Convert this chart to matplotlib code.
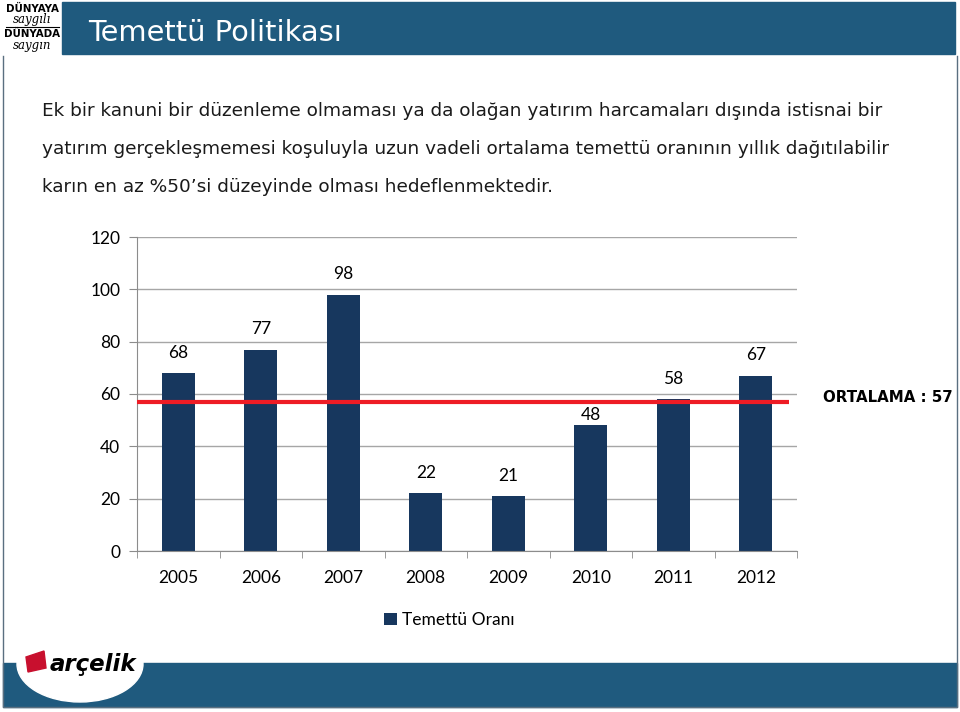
import matplotlib.pyplot as plt
from matplotlib.patches import Rectangle, Ellipse, Polygon
from matplotlib.lines import Line2D

# data
years = ['2005', '2006', '2007', '2008', '2009', '2010', '2011', '2012']
temettu = [68, 77, 98, 22, 21, 48, 58, 67]
ortalama = 57

title = 'Temettü Politikası'
body = ['Ek bir kanuni bir düzenleme olmaması ya da olağan yatırım harcamaları dışında istisnai bir',
        'yatırım gerçekleşmemesi koşuluyla uzun vadeli ortalama temettü oranının yıllık dağıtılabilir',
        'karın en az %50’si düzeyinde olması hedeflenmektedir.']

W, H = 960, 712
band = '#1f5a7e'
bar_col = '#17375e'
edge = '#5a6f80'

fig = plt.figure(figsize=(W / 100, H / 100), dpi=100)

def fx(px):
    return px / W

def fy(py):
    return 1 - py / H

# slide decoration
fig.patches.append(Rectangle((fx(62), fy(54)), fx(955) - fx(62), fy(2) - fy(54),
                             transform=fig.transFigure, color=band, zorder=0))
fig.patches.append(Rectangle((fx(3), fy(707)), fx(957) - fx(3), fy(663) - fy(707),
                             transform=fig.transFigure, color=band, zorder=0))
fig.lines.append(Line2D([fx(3), fx(3), fx(957), fx(957)], [fy(56), fy(707), fy(707), fy(56)],
                        transform=fig.transFigure, color=edge, lw=1))
fig.patches.append(Ellipse((fx(80), fy(664)), fx(126), fy(626) - fy(702),
                           transform=fig.transFigure, color='white', zorder=2))
fig.patches.append(Polygon([(fx(26), fy(657)), (fx(44), fy(651)), (fx(46), fy(668)), (fx(28), fy(672))],
                           closed=True, transform=fig.transFigure, color='#c8102e', zorder=3))
fig.text(fx(50), fy(664), 'arçelik', fontsize=16.5, fontweight='bold', style='italic',
         color='black', va='center', ha='left', zorder=4)

# top-left logo
fig.text(fx(32), fy(9), 'DÜNYAYA', fontsize=7.4, fontweight='bold', ha='center', va='center')
fig.text(fx(32), fy(20), 'saygılı', fontsize=8.5, style='italic', family='DejaVu Serif', ha='center', va='center')
fig.lines.append(Line2D([fx(6), fx(59)], [fy(27), fy(27)], transform=fig.transFigure, color='black', lw=0.8))
fig.text(fx(32), fy(34), 'DÜNYADA', fontsize=7.4, fontweight='bold', ha='center', va='center')
fig.text(fx(32), fy(45), 'saygın', fontsize=8.5, style='italic', family='DejaVu Serif', ha='center', va='center')

fig.text(fx(88), fy(33), title, fontsize=20.8, color='white', ha='left', va='center')
for i, line in enumerate(body):
    fig.text(fx(42), fy(111 + i * 38), line, fontsize=13.3, color='#1a1a1a', ha='left', va='center')

# chart
ax = fig.add_axes([fx(137), fy(551), fx(797) - fx(137), fy(237) - fy(551)])
x = list(range(len(years)))
bars = ax.bar(x, temettu, width=0.4, color=bar_col, label='Temettü Oranı', zorder=2)
for xi, v in zip(x, temettu):
    # keep a label that sits just under the average line clear of it
    off = 2 if 0 < ortalama - v < 12 else 9
    ax.annotate(str(v), (xi, v), xytext=(0, off), textcoords='offset points',
                ha='center', va='bottom', fontsize=12.5, family='Lato')
ax.plot([-0.5, len(years) - 0.6], [ortalama, ortalama], color='#ee1c25', lw=3, zorder=3,
        solid_capstyle='butt')

ax.set_xlim(-0.5, len(years) - 0.5)
ax.set_ylim(0, 120)
ax.set_yticks(range(0, 121, 20))
ax.set_xticks(x)
ax.set_xticklabels(years, family='Lato', fontsize=12.5)
for lab in ax.get_yticklabels():
    lab.set_family('Lato')
    lab.set_fontsize(12.5)
ax.set_xticks([i - 0.5 for i in range(len(years) + 1)], minor=True)
ax.tick_params(axis='x', which='major', length=0, pad=14)
ax.tick_params(axis='x', which='minor', length=5, color='#8c8c8c', direction='out')
ax.tick_params(axis='y', length=6, color='#8c8c8c', pad=6)
ax.grid(axis='y', color='#a6a6a6', lw=1, zorder=0)
for s in ['top', 'right']:
    ax.spines[s].set_visible(False)
for s in ['left', 'bottom']:
    ax.spines[s].set_color('#8c8c8c')

fig.text(fx(823), fy(398), f'ORTALAMA : {ortalama}', fontsize=10.8, fontweight='bold',
         ha='left', va='center')

handles, labels = ax.get_legend_handles_labels()
fig.legend(handles, labels, loc='center', bbox_to_anchor=(fx(449), fy(620)), frameon=False,
           handlelength=0.75, handleheight=0.75, handletextpad=0.3,
           prop={'family': 'Lato', 'size': 12.5})

fig.savefig('out.png', dpi=100)
